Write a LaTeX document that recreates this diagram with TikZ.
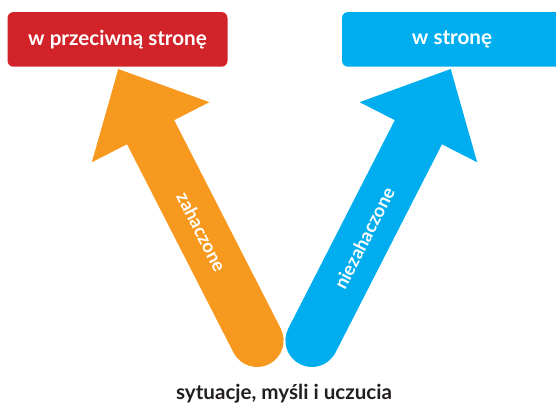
\documentclass[tikz,border=0pt]{standalone}
\usepackage{fontspec}
\setmainfont{Lato}
\usetikzlibrary{arrows.meta}
\definecolor{boxred}{HTML}{D2232A}
\definecolor{arrorange}{HTML}{F7991F}
\definecolor{arrblue}{HTML}{00AEEF}
\definecolor{txtdark}{HTML}{231F20}

\begin{document}
\begin{tikzpicture}
        [x=1pt, y=1pt, every node/.style={font=\bfseries\fontsize{20.6}{24}\selectfont},
        goalbox/.style={rounded corners=6pt, minimum width=220pt, minimum height=54.7pt, text=white, inner sep=0},
        bigarrow/.style={line width=53pt, line cap=round, -{Triangle[length=71pt, width=132pt, line width=0pt]}},
        armlabel/.style={sloped, text=white, font=\bfseries\fontsize{18.5}{22}\selectfont}]

        \useasboundingbox (0, 0) rectangle (556, 405);
        \clip (0, 0) rectangle (556, 405);

        \node[goalbox, fill=boxred] (away) at (117.5, 365.6) {w przeciwną stronę};
        \node[goalbox, fill=arrblue] (toward) at (452, 365.6) {w stronę};
        \node[anchor=base, text=txtdark] (source) at (284, 6) {sytuacje, myśli i uczucia};

        \coordinate (base1) at (257.1, 64.5);
        \coordinate (tip1) at (118.3, 336);
        \coordinate (base2) at (311.9, 64.5);
        \coordinate (tip2) at (450.7, 336);

        \draw[bigarrow, arrorange] (base1) -- node[armlabel, pos=0.4] (hooked) {zahaczone} (tip1);
        \draw[bigarrow, arrblue] (base2) -- node[armlabel, pos=0.377] (unhooked) {niezahaczone} (tip2);

\end{tikzpicture}
\end{document}
